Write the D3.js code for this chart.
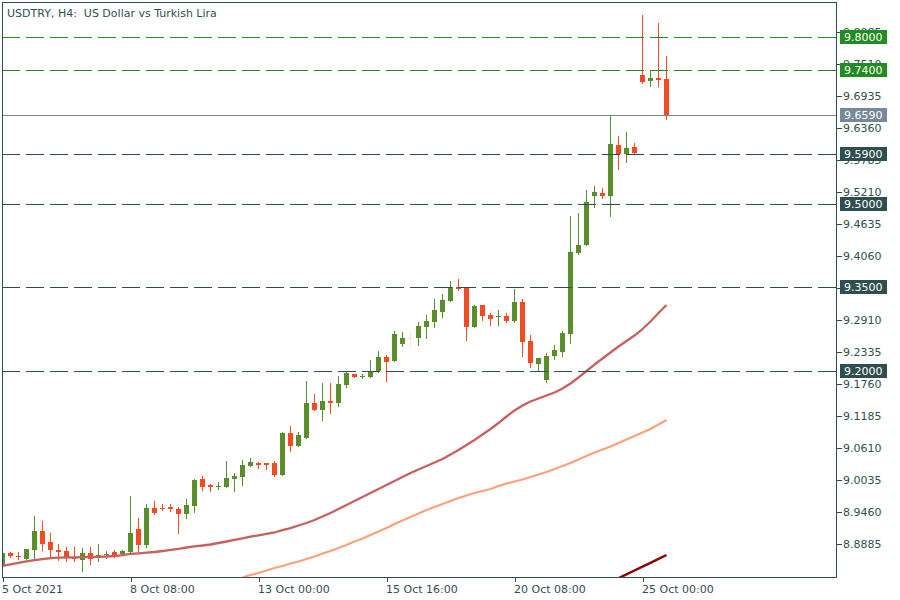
<!DOCTYPE html>
<html><head><meta charset="utf-8">
<script src="https://cdn.jsdelivr.net/npm/d3@7"></script>
<style>body{margin:0;background:#fff}svg{display:block}</style>
</head><body><svg id="c" width="900" height="600"></svg>
<script>
const title = "USDTRY, H4:  US Dollar vs Turkish Lira";

const opens = [8.849,8.872,8.867,8.862,8.878,8.912,8.892,8.878,8.876,8.866,
 8.860,8.872,8.866,8.8687,8.874,8.8705,8.8747,8.915,8.887,8.953,
 8.954,8.955,8.9514,8.943,8.957,9.005,8.9945,8.991,8.9915,9.005,
 9.009,9.029,9.034,9.034,9.034,9.0125,9.088,9.065,9.0795,9.142,
 9.130,9.1454,9.1424,9.1747,9.194,9.189,9.1886,9.1993,9.2245,9.2173,
 9.248,9.258,9.2587,9.2784,9.2874,9.3054,9.3251,9.350,9.3503,9.2784,
 9.318,9.300,9.2964,9.2982,9.2892,9.3233,9.2533,9.2119,9.1832,9.2263,
 9.2335,9.2658,9.4114,9.4258,9.5138,9.5192,9.5138,9.6054,9.5893,9.6019,
 9.7312,9.7205,9.7258,9.724];
const highs = [8.873,8.874,8.874,8.880,8.939,8.930,8.908,8.8885,8.883,8.883,
 8.881,8.883,8.8885,8.876,8.878,8.878,8.975,8.935,8.960,8.966,
 8.960,8.960,8.955,8.969,9.005,9.011,8.996,9.000,9.038,9.016,
 9.039,9.043,9.036,9.0345,9.0376,9.090,9.1005,9.090,9.181,9.158,
 9.178,9.178,9.190,9.1976,9.1945,9.194,9.219,9.235,9.228,9.271,
 9.269,9.269,9.287,9.300,9.329,9.3377,9.361,9.3647,9.3503,9.318,
 9.318,9.3036,9.309,9.3036,9.3467,9.3287,9.264,9.2227,9.2317,9.246,
 9.271,9.478,9.483,9.5246,9.532,9.528,9.6576,9.6216,9.6288,9.609,
 9.839,9.740,9.8247,9.7654];
const lows = [8.847,8.865,8.861,8.861,8.864,8.878,8.8675,8.860,8.8585,8.8585,
 8.8405,8.853,8.8585,8.864,8.866,8.8705,8.874,8.876,8.8826,8.943,
 8.9496,8.948,8.908,8.935,8.9465,8.986,8.984,8.988,8.9915,8.984,
 8.995,9.029,9.0256,9.024,9.011,9.012,9.056,9.065,9.0795,9.130,
 9.112,9.124,9.137,9.171,9.189,9.187,9.1886,9.1976,9.182,9.2173,
 9.244,9.244,9.246,9.2587,9.2784,9.2964,9.3251,9.345,9.255,9.2784,
 9.291,9.282,9.282,9.2874,9.2874,9.2263,9.2065,9.201,9.1796,9.221,
 9.2263,9.2497,9.4096,9.4258,9.494,9.510,9.4779,9.5623,9.575,9.5905,
 9.7169,9.7115,9.7115,9.6527];
const closes = [8.872,8.867,8.866,8.879,8.912,8.889,8.878,8.875,8.8646,8.861,
 8.872,8.8615,8.869,8.870,8.868,8.8754,8.908,8.887,8.953,8.944,
 8.952,8.9514,8.943,8.9586,9.0035,8.9915,8.9915,8.9927,9.007,9.0107,
 9.030,9.036,9.031,9.031,9.0125,9.088,9.065,9.084,9.142,9.130,
 9.1454,9.1424,9.176,9.1958,9.189,9.191,9.1993,9.2245,9.2155,9.266,
 9.2587,9.258,9.280,9.2892,9.309,9.327,9.350,9.3467,9.2784,9.316,
 9.298,9.2928,9.2982,9.2892,9.3233,9.2515,9.2137,9.2227,9.2263,9.237,
 9.2676,9.413,9.4258,9.503,9.521,9.5138,9.6072,9.5893,9.600,9.5905,
 9.7187,9.7258,9.7222,9.659];

const maFast = [8.8490,8.8517,8.8544,8.8571,8.8597,8.8615,8.8633,8.8639,8.8642,8.8646,
 8.8648,8.8651,8.8655,8.8660,8.8669,8.8687,8.8709,8.8718,8.8729,8.8741,
 8.8759,8.8781,8.8799,8.8822,8.8844,8.8858,8.8876,8.8903,8.8930,8.8957,
 8.8984,8.9016,8.9041,8.9065,8.9092,8.9136,8.9172,8.9217,8.9262,8.9316,
 8.9379,8.9442,8.9514,8.9586,8.9658,8.9729,8.9801,8.9873,8.9945,9.0017,
 9.0089,9.0161,9.0224,9.0286,9.0349,9.0412,9.0493,9.0574,9.0664,9.0754,
 9.0852,9.0951,9.1059,9.1176,9.1284,9.1374,9.1445,9.1499,9.1553,9.1607,
 9.1679,9.1769,9.1877,9.1994,9.2110,9.2218,9.2326,9.2434,9.2533,9.2631,
 9.2748,9.2883,9.3036,9.3179];
const maMidStart = 30;
const maMid = [8.8283,8.8328,8.8364,8.8409,8.8454,8.8490,8.8534,8.8570,8.8615,8.8660,
 8.8714,8.8759,8.8813,8.8867,8.8930,8.8984,8.9047,8.9110,8.9172,8.9244,
 8.9307,8.9370,8.9433,8.9496,8.9550,8.9604,8.9658,8.9711,8.9756,8.9801,
 8.9837,8.9873,8.9927,8.9972,9.0008,9.0044,9.0089,9.0134,9.0179,9.0233,
 9.0286,9.0340,9.0403,9.0466,9.0529,9.0583,9.0637,9.0700,9.0763,9.0826,
 9.0888,9.0951,9.1032,9.1113];
const maSlowStart = 77;
const maSlow = [8.8270,8.8339,8.8409,8.8479,8.8547,8.8617,8.8687];

const yTicks = [8.8885,8.9460,9.0035,9.0610,9.1185,9.1760,9.2335,9.2910,9.3485,9.4060,9.4635,9.5210,9.5785,9.6360,9.6935,9.7510,9.8085];
const xTickIdx = [0,16,32,48,64,80];
const xTickLabels = ["5 Oct 2021","8 Oct 08:00","13 Oct 00:00","15 Oct 16:00","20 Oct 08:00","25 Oct 00:00"];
const levels = [9.80,9.74,9.59,9.50,9.35,9.20];
const levelKinds = ["green","green","dark","dark","dark","dark"];
const lastPrice = 9.659;

// ---- drawing ----
const C = {frame:"#2f4f4f", up:"#5a8d2c", down:"#f24b24", doji:"#fbe6cf",
  green:"#228b22", dark:"#2f4f4f", last:"#778899",
  maFast:"#c8605e", maMid:"#ffa07a", maSlow:"#8b0000"};
const FONT = "DejaVu Sans";
const L = 2, T = 2, R = 837, B = 577;

const svg = d3.select("#c");
const x = d3.scaleLinear().domain([0, 83]).range([2.5, 666.5]);
const y = d3.scaleLinear().domain([8.8885, 9.8085]).range([544, 32.02]);

svg.append("defs").append("clipPath").attr("id","clip")
  .append("rect").attr("x",L).attr("y",T).attr("width",R-L).attr("height",B-T);
const plot = svg.append("g").attr("clip-path","url(#clip)");

// candles
const bars = opens.map((o,i)=>({i,o,h:highs[i],l:lows[i],c:closes[i]}));
const colorOf = d => d.c > d.o ? C.up : (d.c < d.o ? C.down : C.doji);
const cg = plot.append("g").attr("shape-rendering","crispEdges");
cg.selectAll("line.w").data(bars).join("line").attr("class","w")
  .attr("x1",d=>x(d.i)).attr("x2",d=>x(d.i))
  .attr("y1",d=>Math.round(y(d.h))).attr("y2",d=>Math.round(y(d.l))+1)
  .attr("stroke",colorOf).attr("stroke-width",1);
cg.selectAll("rect.b").data(bars).join("rect").attr("class","b")
  .attr("x",d=>x(d.i)-2.5).attr("width",5)
  .attr("y",d=>Math.round(y(Math.max(d.o,d.c))))
  .attr("height",d=>Math.max(1, Math.round(y(Math.min(d.o,d.c))) - Math.round(y(Math.max(d.o,d.c)))))
  .attr("fill",colorOf);

// moving averages
const line = d3.line().x(d=>x(d[0])).y(d=>y(d[1]));
const maDraw = (vals, start, col, w) => plot.append("path")
  .attr("d", line(vals.map((v,k)=>[start+k, v])))
  .attr("fill","none").attr("stroke",col).attr("stroke-width",w).attr("stroke-linejoin","round");
maDraw(maFast, 0, C.maFast, 2.3);
maDraw(maMid, maMidStart, C.maMid, 2.2);
maDraw(maSlow, maSlowStart, C.maSlow, 2.4);

// level lines
const lg = svg.append("g").attr("shape-rendering","crispEdges");
levels.forEach((v,k)=>{
  const yy = Math.round(y(v)) + 0.5;
  lg.append("line").attr("x1",L).attr("x2",R).attr("y1",yy).attr("y2",yy)
    .attr("stroke", C[levelKinds[k]]).attr("stroke-width",1).attr("stroke-dasharray","18,6");
});
{
  const yy = Math.round(y(lastPrice)) + 0.5;
  lg.append("line").attr("x1",L).attr("x2",R).attr("y1",yy).attr("y2",yy)
    .attr("stroke", C.last).attr("stroke-width",1);
}

// axes
const yAxis = d3.axisRight(y).tickValues(yTicks).tickFormat(d3.format(".4f"))
  .tickSize(5).tickSizeOuter(0).tickPadding(1);
const ya = svg.append("g").attr("transform",`translate(${R},0)`).call(yAxis);
ya.select(".domain").remove();
ya.selectAll("line").attr("stroke",C.frame).attr("shape-rendering","crispEdges");
ya.selectAll("text").attr("fill",C.frame).attr("font-family",FONT).attr("font-size",11);

const xAxis = d3.axisBottom(x).tickValues(xTickIdx).tickFormat((d,i)=>xTickLabels[i])
  .tickSize(5).tickSizeOuter(0).tickPadding(3);
const xa = svg.append("g").attr("transform",`translate(0,${B})`).call(xAxis);
xa.select(".domain").remove();
xa.selectAll("line").attr("stroke",C.frame).attr("shape-rendering","crispEdges");
xa.selectAll("text").attr("fill",C.frame).attr("font-family",FONT).attr("font-size",11)
  .attr("text-anchor","start").attr("x",-1);

// frame
svg.append("rect").attr("x",L+0.5).attr("y",T+0.5).attr("width",R-L-1).attr("height",B-T)
  .attr("fill","none").attr("stroke",C.frame).attr("stroke-width",1).attr("shape-rendering","crispEdges");

// level labels
const tags = levels.map((v,k)=>({v, col:C[levelKinds[k]]})).concat([{v:lastPrice, col:C.last}]);
const tg = svg.append("g");
tags.forEach(t=>{
  const yy = Math.round(y(t.v));
  tg.append("rect").attr("x",840).attr("y",yy-7).attr("width",47).attr("height",14)
    .attr("fill",t.col).attr("shape-rendering","crispEdges");
  tg.append("text").attr("x",844).attr("y",yy).attr("dy","0.36em")
    .attr("fill","#fff").attr("font-family",FONT).attr("font-size",11)
    .text(d3.format(".4f")(t.v));
});

// title
svg.append("text").attr("x",7).attr("y",17).attr("fill",C.frame)
  .attr("font-family",FONT).attr("font-size",11)
  .style("white-space","pre").attr("xml:space","preserve").text(title);
</script></body></html>
